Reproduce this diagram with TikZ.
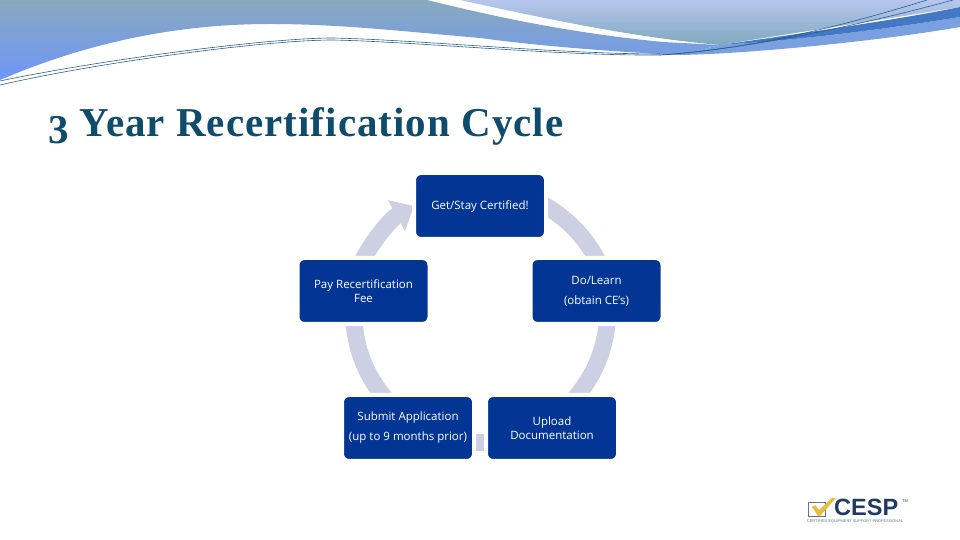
\documentclass[tikz,border=0pt]{standalone}
\usepackage{fontspec}
\setmainfont{Open Sans}
\newfontfamily\titlefont[LetterSpace=2.5]{Liberation Serif}
\newfontfamily\logofont{Liberation Sans}
\usetikzlibrary{arrows.meta, positioning, backgrounds}

\definecolor{boxblue}{HTML}{033594}
\definecolor{bandgray}{HTML}{CDD0E2}
\definecolor{titleblue}{HTML}{0F4C6B}
\definecolor{linedark}{HTML}{2A5F8F}
\definecolor{logonavy}{HTML}{1F3A63}
\definecolor{swooshtop}{RGB}{136,169,188}
\definecolor{swooshlow}{RGB}{110,150,250}
\definecolor{skytop}{RGB}{183,198,238}
\definecolor{skylow}{RGB}{127,169,190}
\definecolor{bandlight}{RGB}{122,160,224}
\definecolor{banddark}{RGB}{66,120,196}
\definecolor{logogold}{RGB}{232,190,60}

\tikzset{
  stagebox/.style={rectangle, rounded corners=7pt, fill=boxblue, draw=white, line width=4pt,
    outer sep=0pt, minimum width=132pt, minimum height=66pt, text=white, align=center,
    font=\fontsize{11.5}{14}\selectfont, execute at begin node={\vspace*{5pt}}},
  band/.style={line width=17pt, draw=bandgray, shorten <=-8pt, shorten >=-8pt},
  bandhead/.style={line width=17pt, draw=bandgray, shorten <=-8pt,
    -{Triangle[width=34pt, length=20pt, fill=bandgray]}},
  swoosh/.style={line width=.6pt, draw=linedark}
}

\begin{document}
\begin{tikzpicture} [x=1pt, y=1pt, node distance = 100pt, on grid]
\useasboundingbox (0,0) rectangle (960,540);

% header
\path [top color=swooshtop, bottom color=swooshlow]
  (0,540) -- (427,540) .. controls (480,527) and (560,508) .. (663,498)
  -- (720,495) -- (680,485) .. controls (620,488) and (547,493) .. (480,502)
  .. controls (410,508) and (340,516) .. (270,516) .. controls (160,516) and (70,490) .. (0,460) -- cycle;
\path [top color=skytop, bottom color=skylow]
  (460,540) -- (960,540) -- (960,533) .. controls (880,520) and (800,508) .. (720,495)
  .. controls (640,502) and (560,518) .. (460,540) -- cycle;
\path [fill=bandlight]
  (680,485) .. controls (747,486) and (880,499) .. (960,513) -- (960,523)
  .. controls (880,510) and (800,500) .. (720,495) -- cycle;
\path [fill=banddark]
  (720,495) .. controls (813,508) and (913,523) .. (960,533) -- (960,523)
  .. controls (880,510) and (800,500) .. (720,495) -- cycle;
\draw [swoosh] (0,455) .. controls (100,478) and (267,500) .. (333,500)
  .. controls (420,498) and (560,484) .. (660,485);
\draw [swoosh] (0,459) .. controls (100,480) and (267,502) .. (333,502)
  .. controls (420,500) and (560,486) .. (660,486);
\draw [swoosh] (660,485) .. controls (747,490) and (847,515) .. (927,540);
\draw [swoosh] (660,485) .. controls (760,492) and (880,520) .. (953,540);

\node (title) [anchor=base west, text=titleblue, font=\titlefont\bfseries\fontsize{41}{41}\selectfont,
  inner sep=0pt] at (48,403) {\raisebox{-.16em}{3} Year Recertification Cycle};

% cycle
\node (get) [stagebox] at (480,334) {Get/Stay Certified!};
\node (do) [stagebox, below right = 85pt and 116.5pt of get] {Do/Learn\\[6pt](obtain CE's)};
\node (pay) [stagebox, below left = 85pt and 116.5pt of get] {Pay Recertification\\Fee};
\node (upload) [stagebox, below right = 222pt and 72pt of get] {Upload\\Documentation};
\node (submit) [stagebox, below left = 222pt and 72pt of get] {Submit Application\\[6pt](up to 9 months prior)};

\begin{scope}[on background layer]
\draw [band] (get.east) to [bend left=17, looseness=.85] (do.north);
\draw [band] (do.-72) to [bend left=19, looseness=.85] (upload.52);
\draw [line width=17pt, draw=bandgray] (upload.192) -- (submit.-12);
\draw [band] (submit.128) to [bend left=19, looseness=.85] (pay.-106);
\draw [bandhead] (pay.north) to [bend left=17, looseness=.85] (get.west);
\end{scope}

% logo
\node (logobox) [draw=logonavy!70, line width=1pt, minimum width=17pt, minimum height=14pt,
  inner sep=0pt] at (816.5,30) {};
\node (logoname) [anchor=base west, inner sep=0pt, text=logonavy,
  font=\logofont\bfseries\fontsize{23.5}{24}\selectfont, text depth=0pt] at (834,24.5) {CESP};
\node (logotm) [inner sep=0pt, text=logonavy, font=\logofont\fontsize{4}{4}\selectfont] at (905,39) {TM};
\node (logotag) [inner sep=0pt, text=logonavy!70, font=\logofont\fontsize{3.9}{4}\selectfont]
  at (855,18) {CERTIFIED EQUIPMENT SUPPORT PROFESSIONAL};
\path [fill=logogold]
  (812,33) -- (815,35) -- (819,30) -- (832,42) -- (836,42) -- (820,24) -- (818,24) -- cycle;
\end{tikzpicture}
\end{document}
